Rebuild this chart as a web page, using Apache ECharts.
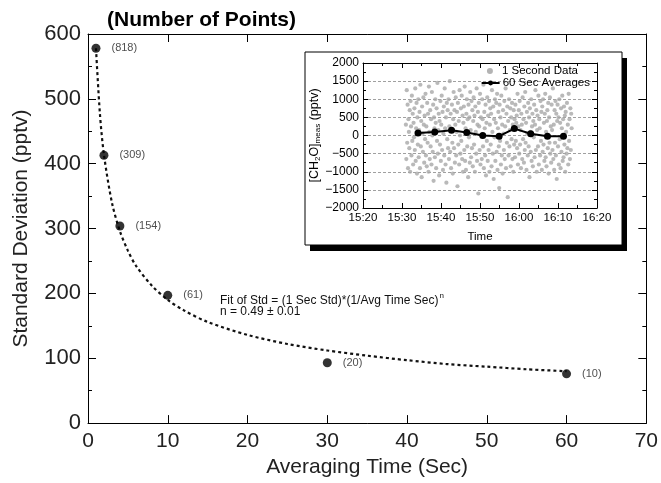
<!DOCTYPE html>
<html>
<head>
<meta charset="utf-8">
<script src="https://cdn.jsdelivr.net/npm/echarts@6/dist/echarts.min.js"></script>
<style>
html,body{margin:0;padding:0;background:#fff;}
#chart{width:661px;height:483px;}
</style>
</head>
<body>
<div id="chart"></div>
<script>
// ---- Main chart data ----
const avgTimes = [1, 2, 4, 10, 30, 60];
const stdDevs = [578, 413, 304, 197, 93, 76];
const pointCounts = ['(818)', '(309)', '(154)', '(61)', '(20)', '(10)'];

// fitted curve
const fitTimes = [1, 1.5, 2, 3, 4, 5, 6, 8, 10, 12, 15, 20, 25, 30, 35, 40, 45, 50, 55, 60];
const fitStd = [578, 476, 414, 340, 296, 266, 243, 212, 190, 174, 156, 136, 122, 112, 104, 97, 91, 87, 83, 80];

// ---- Inset data ----
const insetTickLabels = ['15:20', '15:30', '15:40', '15:50', '16:00', '16:10', '16:20'];
const insetYLabels = ['\u22122000', '\u22121500', '\u22121000', '\u2212500', '0', '500', '1000', '1500', '2000'];
const secStart = 931, secEnd = 973.5; // minutes of day, 15:31 to 16:13.5
const secValues = [
  300, -650, 1250, -200, 850, -900, 450, 100, -350, 700,
  -1000, 950, 250, -550, 1100, -150, 600, -800, 350, -50,
  750, -400, 1300, -700, 200, 900, -1050, 500, -250, 1000,
  -600, 150, 650, -900, 1400, -300, 400, -1150, 800, 50,
  -450, 1050, 300, -750, 550, -100, 1150, -550, 250, -850,
  900, -200, 600, -1000, 1350, 100, -650, 700, -300, 450,
  -800, 1200, 0, -450, 850, -1250, 500, 200, -600, 1000,
  350, -900, 750, -150, 1450, -500, 150, 600, -1100, 400,
  -250, 950, -700, 300, 1100, -400, 650, -950, 50, 800,
  -550, 1300, 200, -800, 500, -1300, 900, -100, 700, -350,
  1000, -650, 250, 1500, -450, 600, -900, 150, 850, -200,
  -1050, 450, 1200, -350, 700, -750, 300, 1050, -550, 100,
  650, -1400, 900, -250, 400, -800, 1250, 0, -500, 750,
  -150, 1100, -650, 550, -1000, 350, 800, -400, 1350, -700,
  200, -950, 600, 1000, -300, 450, -1150, 850, -50, 500,
  -750, 1200, 150, -600, 950, -350, 700, -850, 400, 1050,
  -250, 550, -1000, 800, 100, -500, 1300, -700, 300, 650,
  -1600, 900, 250, -400, 1150, -800, 500, 0, -650, 1000,
  450, -300, 1400, -900, 650, 200, -550, 850, -1100, 350,
  -150, 1050, -700, 550, -400, 950, -1000, 300, 750, -250,
  600, -850, 1250, 100, -500, 800, -1200, 450, -50, 1000,
  -700, 350, 900, -450, 1150, -950, 200, 650, -300, -1450,
  850, -150, 500, -800, 1100, -550, 300, -1050, 700, 50,
  -400, 950, -650, 250, 1300, -900, 600, -200, 800, -1700,
  400, -550, 1000, -300, 150, 750, -850, 500, -100, 900,
  -650, 300, -1000, 700, -250, 450, -600, 850, -150, 350,
  550, -350, 1150, -800, 250, 700, -500, 950, -250, 150,
  -900, 600, 300, -650, 1050, -100, 450, -750, 800, -400,
  1200, -200, 350, -950, 650, 50, -550, 900, -300, 500,
  -1150, 750, 100, -450, 1000, -700, 250, 600, -850, 400,
  -50, 850, -600, 300, 1250, -400, 700, -1000, 150, 550,
  -300, 1100, -800, 450, 200, -550, 950, -150, 650, -950,
  800, -450, 1000, -250, 350, -700, 600, 1150, -600, 100,
  -850, 400, 700, -350, 900, -1050, 500, -200, 1050, -500,
  250, -750, 850, 150, -400, 1300, -650, 300, -950, 700,
  -200, 950, -550, 600, -1200, 400, 850, -300, 500, -800,
  1000, -100, 350, -900, 750, -450, 200, 1100, -700, 450,
  -600, 800, -250, 550, -1000, 650, 100, -500, 900, -350,
  300, -800, 1150, -150, 450, -650, 750, -400, 600, 200
];
const avg60Times = [934.1, 938.4, 942.7, 946.6, 950.7, 954.9, 958.8, 963.0, 967.3, 971.4];
const avg60Values = [70, 95, 145, 80, 0, -20, 190, 50, -20, -20];

const FONT = 'Liberation Sans, Arial, Helvetica, sans-serif';

const mainPts = avgTimes.map((t, i) => [t, stdDevs[i]]);
const fitPts = fitTimes.map((t, i) => [t, fitStd[i]]);
const step = (secEnd - secStart) / (secValues.length - 1);
const secPts = secValues.map((v, i) => [secStart + i * step, v]);
const avgPts = avg60Times.map((t, i) => [t, avg60Values[i]]);

const chart = echarts.init(document.getElementById('chart'), null, {renderer: 'canvas'});

const mainTick = {show: true, inside: true, length: 8, lineStyle: {color: '#000', width: 1}};
const mainMinor = {show: true, splitNumber: 2, length: 4, lineStyle: {color: '#000', width: 1}};
const insetTick = {show: true, inside: true, length: 5, lineStyle: {color: '#000', width: 1}};
const insetMinor = {show: true, splitNumber: 2, length: 3, lineStyle: {color: '#000', width: 1}};
const blackLine = {show: true, onZero: false, lineStyle: {color: '#000', width: 1}};

const option = {
  backgroundColor: '#fff',
  animation: false,
  textStyle: {fontFamily: FONT},
  title: {
    text: '(Number of Points)',
    left: 102, top: 5,
    textStyle: {fontFamily: FONT, fontWeight: 'bold', fontSize: 21, color: '#000'}
  },
  grid: [
    {left: 88, right: 13, top: 34, bottom: 55},
    {left: 363, top: 63, width: 234, height: 145}
  ],
  legend: [
    {
      data: [{name: '1 Second Data', icon: 'circle', itemStyle: {color: '#a0a0a0'}}],
      right: 78, top: 60, itemWidth: 18, itemHeight: 6, itemGap: 2,
      textStyle: {fontFamily: FONT, fontSize: 11.5, color: '#000', padding: [0, 0, 0, -2]},
      z: 20
    },
    {
      data: ['60 Sec Averages'],
      right: 66, top: 72, itemWidth: 18, itemHeight: 6, itemGap: 2,
      textStyle: {fontFamily: FONT, fontSize: 11.5, color: '#000', padding: [0, 0, 0, -2]},
      z: 20
    }
  ],
  xAxis: [
    {
      gridIndex: 0, type: 'value', min: 0, max: 70, interval: 10, position: 'bottom',
      name: 'Averaging Time (Sec)', nameLocation: 'middle', nameGap: 30,
      nameTextStyle: {fontFamily: FONT, fontSize: 21, color: '#222'},
      axisLine: blackLine, axisTick: mainTick, minorTick: {show: false},
      axisLabel: {fontFamily: FONT, fontSize: 21, color: '#222', margin: 8},
      splitLine: {show: false}
    },
    {
      gridIndex: 0, type: 'value', min: 0, max: 70, interval: 10, position: 'top',
      axisLine: blackLine, axisTick: mainTick, axisLabel: {show: false}, splitLine: {show: false}
    },
    {
      gridIndex: 1, type: 'value', min: 920, max: 980, interval: 10, position: 'bottom',
      name: 'Time', nameLocation: 'middle', nameGap: 23,
      nameTextStyle: {fontFamily: FONT, fontSize: 11.5, color: '#000'},
      axisLine: blackLine, axisTick: insetTick, minorTick: insetMinor,
      axisLabel: {fontFamily: FONT, fontSize: 11.5, color: '#000', margin: 4,
        formatter: v => insetTickLabels[Math.round((v - 920) / 10)]},
      splitLine: {show: false}, z: 10
    },
    {
      gridIndex: 1, type: 'value', min: 920, max: 980, interval: 10, position: 'top',
      axisLine: blackLine, axisTick: insetTick, minorTick: insetMinor,
      axisLabel: {show: false}, splitLine: {show: false}, z: 10
    }
  ],
  yAxis: [
    {
      gridIndex: 0, type: 'value', min: 0, max: 600, interval: 100, position: 'left',
      name: 'Standard Deviation (pptv)', nameLocation: 'middle', nameGap: 56,
      nameTextStyle: {fontFamily: FONT, fontSize: 21, color: '#222'},
      axisLine: blackLine, axisTick: mainTick, minorTick: mainMinor,
      axisLabel: {fontFamily: FONT, fontSize: 22, color: '#222', margin: 7},
      splitLine: {show: false}
    },
    {
      gridIndex: 0, type: 'value', min: 0, max: 600, interval: 100, position: 'right',
      axisLine: blackLine, axisTick: mainTick, minorTick: mainMinor,
      axisLabel: {show: false}, splitLine: {show: false}
    },
    {
      gridIndex: 1, type: 'value', min: -2000, max: 2000, interval: 500, position: 'left',
      name: '[CH{sub|2}O]{sub|meas} (pptv)', nameLocation: 'middle', nameGap: 22,
      nameTextStyle: {fontFamily: FONT, fontSize: 12.5, color: '#000',
        rich: {sub: {fontFamily: FONT, fontSize: 8, verticalAlign: 'bottom', padding: [6, 0, 0, 0], color: '#000'}}},
      axisLine: blackLine, axisTick: insetTick, minorTick: insetMinor,
      axisLabel: {fontFamily: FONT, fontSize: 12, color: '#000', margin: 4,
        formatter: v => insetYLabels[Math.round((v + 2000) / 500)]},
      splitLine: {show: true, lineStyle: {color: '#888', width: 0.8, type: [3, 2]}}, z: 10
    },
    {
      gridIndex: 1, type: 'value', min: -2000, max: 2000, interval: 500, position: 'right',
      axisLine: blackLine, axisTick: insetTick, minorTick: insetMinor,
      axisLabel: {show: false}, splitLine: {show: false}, z: 10
    }
  ],
  graphic: [
    {type: 'rect', shape: {x: 310, y: 58, width: 317, height: 193}, style: {fill: '#000'}, z: 5},
    {type: 'rect', shape: {x: 305, y: 52, width: 317, height: 193}, style: {fill: '#fff', stroke: '#000', lineWidth: 1}, z: 6},
    {
      type: 'text', left: 220, top: 292, z: 20,
      style: {
        text: '{t|Fit of Std = (1 Sec Std)*(1/Avg Time Sec)}{sup|n}',
        fontFamily: FONT, fontSize: 12, fill: '#111',
        rich: {
          t: {fontFamily: FONT, fontSize: 12, fill: '#111', verticalAlign: 'bottom', lineHeight: 12},
          sup: {fontFamily: FONT, fontSize: 8, fill: '#111', verticalAlign: 'bottom', padding: [0, 0, 7, 1], lineHeight: 8}
        }
      }
    },
    {
      type: 'text', left: 220, top: 306, z: 20,
      style: {text: 'n = 0.49 \u00b1 0.01', fontFamily: FONT, fontSize: 12, fill: '#111'}
    }
  ],
  series: [
    {
      name: 'fit', type: 'line', xAxisIndex: 0, yAxisIndex: 0, data: fitPts,
      showSymbol: false, smooth: 0.3, silent: true,
      lineStyle: {color: '#111', width: 2.2, type: [3, 3]}, z: 2
    },
    {
      name: 'std', type: 'scatter', xAxisIndex: 0, yAxisIndex: 0, data: mainPts,
      symbol: 'circle', symbolSize: 9, itemStyle: {color: '#000'},
      label: {show: true, position: 'right', distance: 11, fontFamily: FONT, fontSize: 11, color: '#222',
        formatter: p => pointCounts[p.dataIndex]},
      z: 3
    },
    {
      name: '1 Second Data', type: 'scatter', xAxisIndex: 2, yAxisIndex: 2, data: secPts,
      symbol: 'circle', symbolSize: 4.2, itemStyle: {color: '#a8a8a8'}, z: 11,
      markLine: {
        silent: true, symbol: 'none', label: {show: false},
        lineStyle: {color: '#8a8a8a', width: 3, type: 'solid'},
        data: [{yAxis: 0}]
      }
    },
    {
      name: '60 Sec Averages', type: 'line', xAxisIndex: 2, yAxisIndex: 2, data: avgPts,
      symbol: 'circle', symbolSize: 7, showSymbol: true,
      itemStyle: {color: '#000'}, lineStyle: {color: '#000', width: 2}, z: 12
    }
  ]
};
chart.setOption(option);
</script>
</body>
</html>
